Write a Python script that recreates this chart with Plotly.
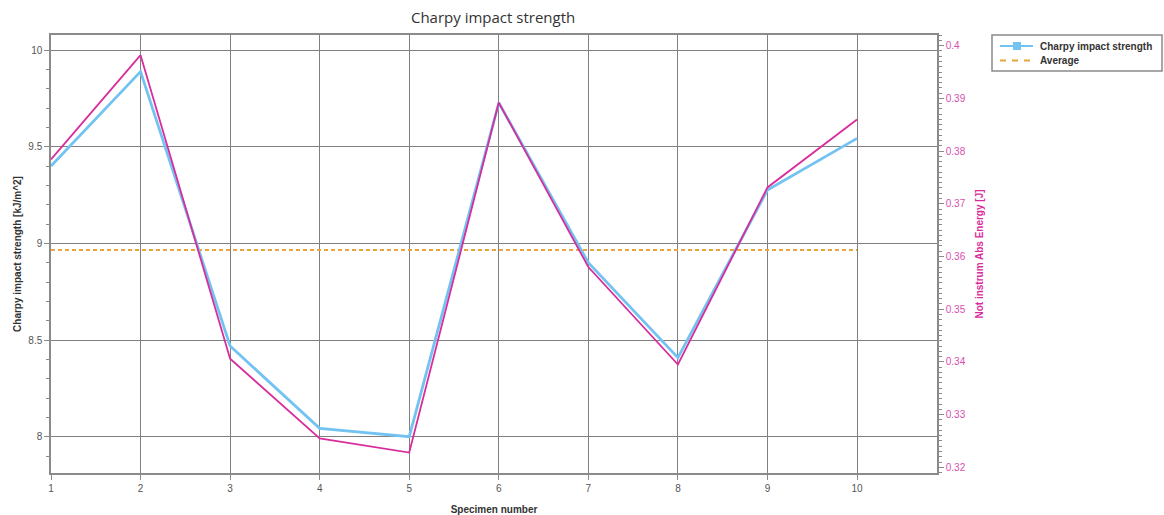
import numpy as np
import plotly.graph_objects as go

# Specimen data
specimens = [1, 2, 3, 4, 5, 6, 7, 8, 9, 10]
charpy_strength = [9.40, 9.888, 8.469, 8.043, 8.00, 9.727, 8.90, 8.409, 9.276, 9.543]  # kJ/m^2
abs_energy = [0.3784, 0.3982, 0.3406, 0.3255, 0.3228, 0.3892, 0.3580, 0.3395, 0.3731, 0.3860]  # J
average_strength = float(np.mean(charpy_strength))

BLUE = "#72c3f2"
MAGENTA = "#d82d9c"
MAGENTA_TXT = "#d64fb0"
ORANGE = "#e9a53a"
GRID = "#808080"
AXIS = "#8a8a8a"
FONT = "Liberation Sans, Arial, sans-serif"
TICK_FONT = dict(family=FONT, size=10, color="#555555")

# Plot area in pixels (used to place the legend box beside it)
W, H = 1164, 515
ML, MR, MT, MB = 51, 227, 35, 42
PW, PH = W - ML - MR, H - MT - MB


def px_x(px):
    return (px - ML) / PW


def px_y(py):
    return (H - MB - py) / PH


fig = go.Figure()

# Average of the impact strength values
fig.add_trace(go.Scatter(
    x=[specimens[0], specimens[-1]], y=[average_strength, average_strength],
    mode="lines", name="Average", showlegend=False,
    line=dict(color=ORANGE, width=2, dash="4px,3px"),
    hoverinfo="skip", yaxis="y",
))

# Charpy impact strength (left axis)
fig.add_trace(go.Scatter(
    x=specimens, y=charpy_strength, mode="lines",
    name="Charpy impact strength", showlegend=False,
    line=dict(color=BLUE, width=2.8), yaxis="y",
))

# Absorbed energy (right axis)
fig.add_trace(go.Scatter(
    x=specimens, y=abs_energy, mode="lines",
    name="Not instrum Abs Energy", showlegend=False,
    line=dict(color=MAGENTA, width=1.8), yaxis="y2",
))

# Compact legend box
shapes = [
    dict(type="rect", xref="paper", yref="paper",
         x0=px_x(992), x1=px_x(1162), y0=px_y(71), y1=px_y(35),
         line=dict(color="#8a8a8a", width=1.5), fillcolor="white", layer="above"),
    dict(type="line", xref="paper", yref="paper",
         x0=px_x(1000), x1=px_x(1033), y0=px_y(46), y1=px_y(46),
         line=dict(color=BLUE, width=2), layer="above"),
    dict(type="rect", xref="paper", yref="paper",
         x0=px_x(1013), x1=px_x(1021), y0=px_y(50), y1=px_y(42),
         line=dict(color=BLUE, width=0), fillcolor=BLUE, layer="above"),
    dict(type="line", xref="paper", yref="paper",
         x0=px_x(1000), x1=px_x(1033), y0=px_y(60.5), y1=px_y(60.5),
         line=dict(color=ORANGE, width=2, dash="6px,6px"), layer="above"),
]
annotations = [
    dict(text="<b>Charpy impact strength</b>", xref="paper", yref="paper",
         x=px_x(1038), y=px_y(46), xanchor="left", yanchor="middle", showarrow=False,
         font=dict(family=FONT, size=10, color="#333333")),
    dict(text="<b>Average</b>", xref="paper", yref="paper",
         x=px_x(1038), y=px_y(60.5), xanchor="left", yanchor="middle", showarrow=False,
         font=dict(family=FONT, size=10, color="#333333")),
]

fig.update_layout(
    width=W, height=H,
    margin=dict(l=ML, r=MR, t=MT, b=MB),
    paper_bgcolor="white", plot_bgcolor="white",
    title=dict(text="Charpy impact strength", x=0.4236, xanchor="center", y=0.965, yanchor="middle",
               font=dict(family="Open Sans, Noto Sans, sans-serif", size=15, color="#333333")),
    showlegend=False,
    shapes=shapes,
    annotations=annotations,
    xaxis=dict(
        range=[1, 10.893], tickmode="array", tickvals=specimens,
        ticktext=[str(s) for s in specimens],
        showgrid=True, gridcolor=GRID, gridwidth=1.2,
        showline=True, linecolor=AXIS, linewidth=1.5, mirror=True,
        ticks="outside", ticklen=5, tickcolor=AXIS,
        tickfont=TICK_FONT, zeroline=False, automargin=False,
        title=dict(text="<b>Specimen number</b>", standoff=13,
                   font=dict(family=FONT, size=10, color="#333333")),
    ),
    yaxis=dict(
        range=[7.8123, 10.0776], dtick=0.5, tick0=8,
        showgrid=True, gridcolor=GRID, gridwidth=1.2,
        showline=True, linecolor=AXIS, linewidth=1.5,
        ticks="outside", ticklen=5, tickcolor=AXIS,
        minor=dict(dtick=0.1, tick0=8, ticks="outside", ticklen=3, tickcolor=AXIS, showgrid=False),
        tickfont=TICK_FONT, zeroline=False, automargin=False,
        title=dict(text="<b>Charpy impact strength [kJ/m^2]</b>", standoff=5,
                   font=dict(family=FONT, size=10, color="#333333")),
    ),
    yaxis2=dict(
        overlaying="y", side="right",
        range=[0.31892, 0.40202], dtick=0.01, tick0=0.32,
        showgrid=False,
        showline=True, linecolor=AXIS, linewidth=1.5,
        ticks="outside", ticklen=5, tickcolor=AXIS,
        minor=dict(dtick=0.001, tick0=0.32, ticks="outside", ticklen=3, tickcolor=AXIS, showgrid=False),
        tickfont=dict(family=FONT, size=10, color=MAGENTA_TXT),
        zeroline=False, automargin=False,
        title=dict(text="<b>Not instrum Abs Energy [J]</b>", standoff=11,
                   font=dict(family=FONT, size=10, color=MAGENTA)),
    ),
)

fig.write_html("out.html")
